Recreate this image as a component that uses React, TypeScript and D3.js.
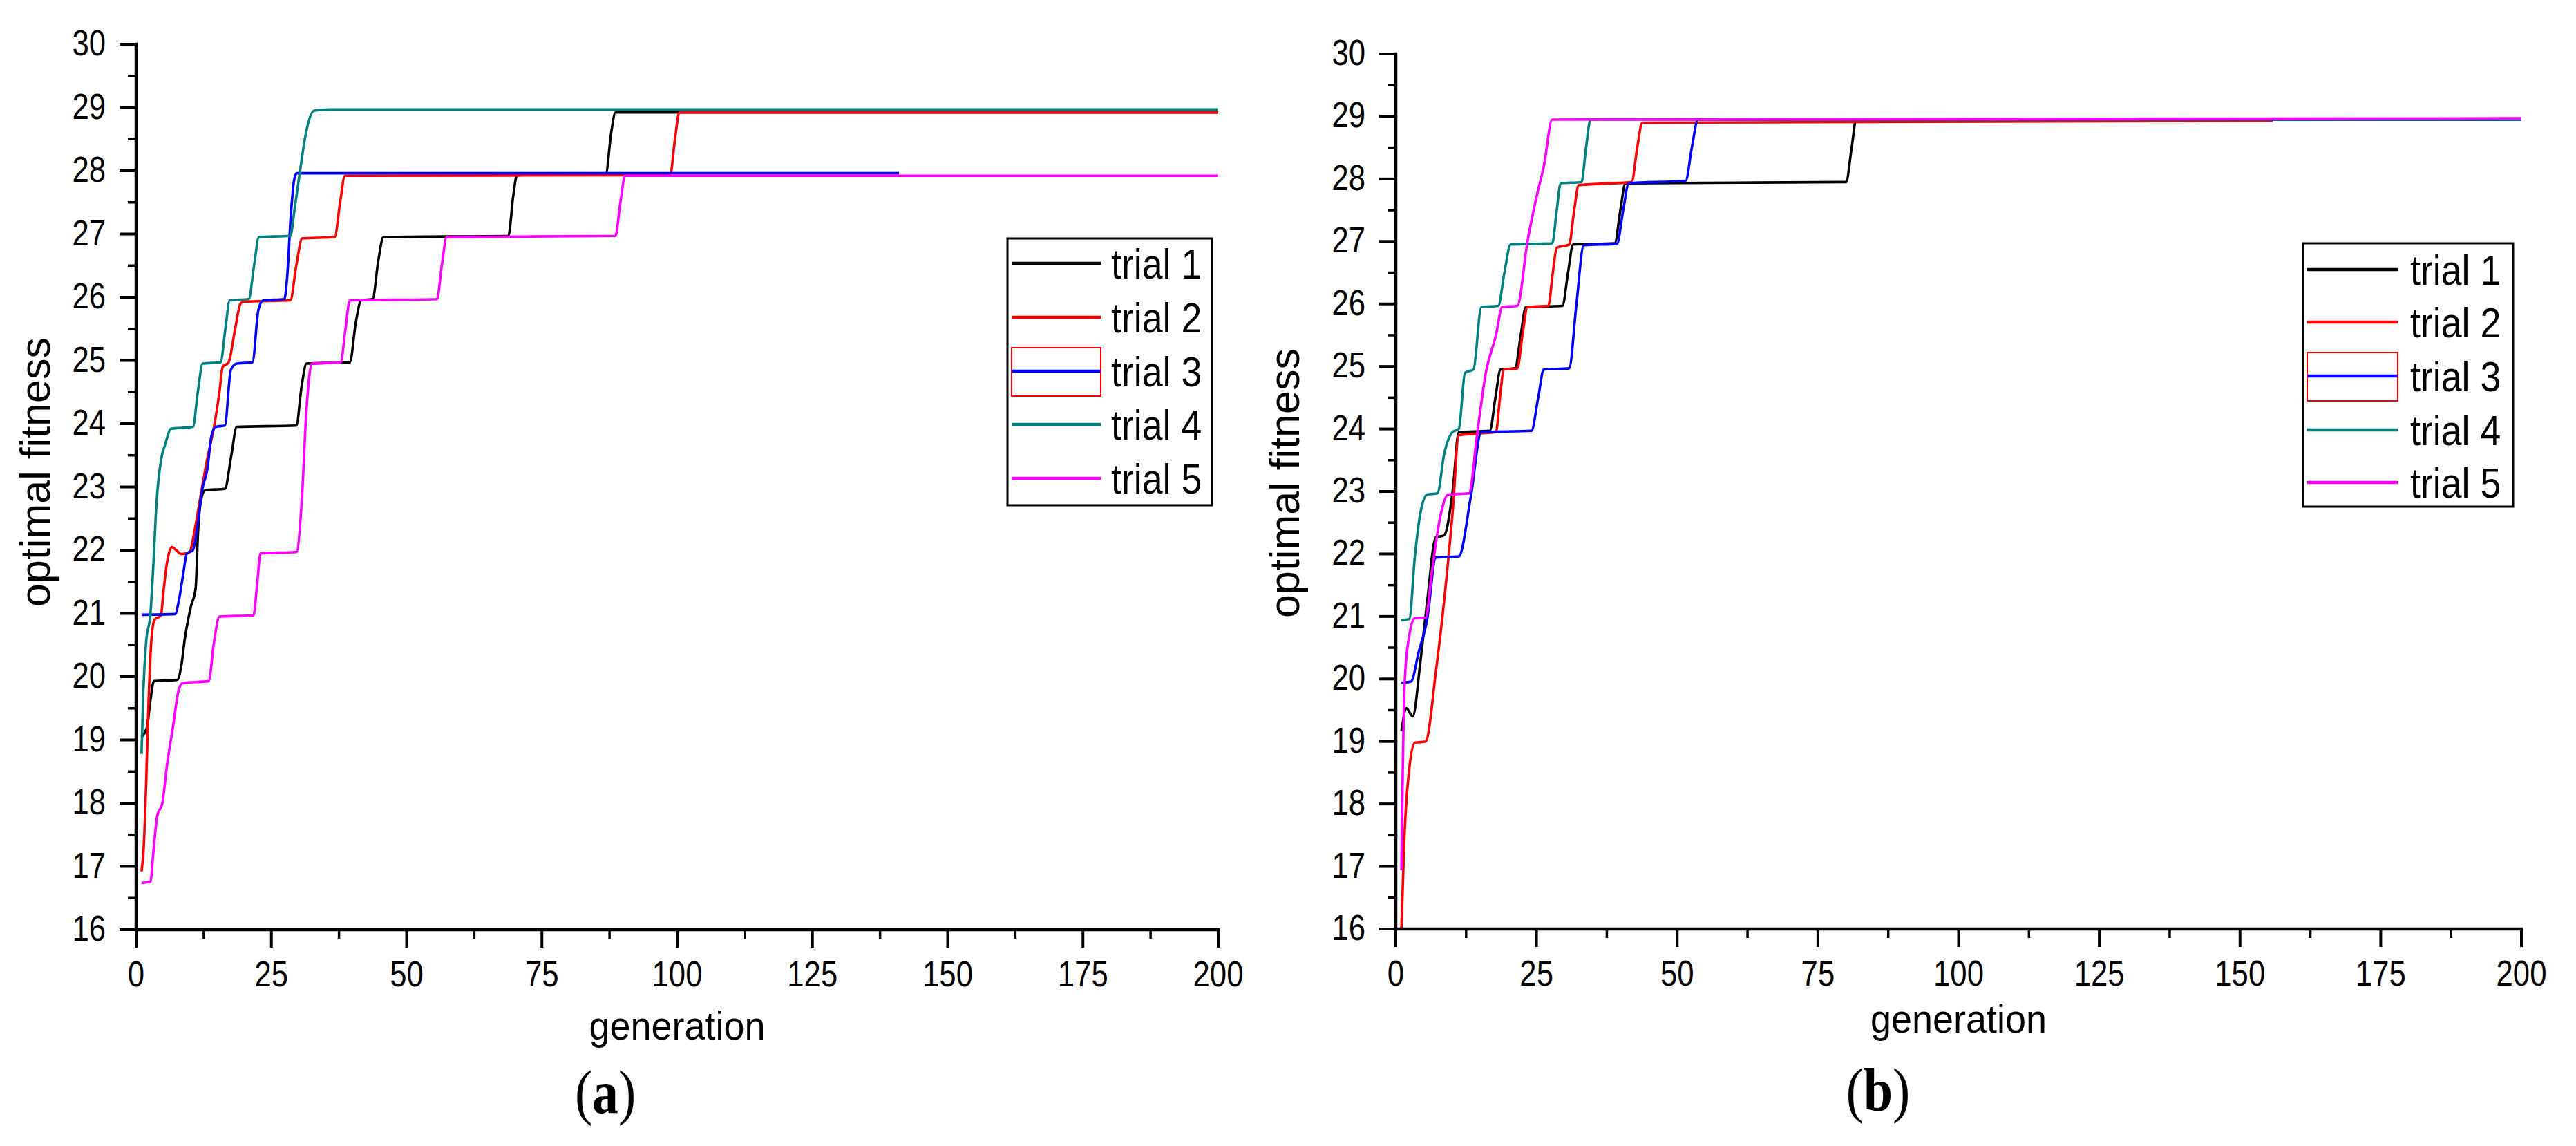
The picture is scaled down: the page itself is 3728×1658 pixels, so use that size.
import React from 'react';
import * as d3 from 'd3';

type Pt = [number, number];

const xTicks = [0, 25, 50, 75, 100, 125, 150, 175, 200];
const yTicks = [16, 17, 18, 19, 20, 21, 22, 23, 24, 25, 26, 27, 28, 29, 30];
const trialNames = ['trial 1', 'trial 2', 'trial 3', 'trial 4', 'trial 5'];
const trialColors = ['#000000', '#FF0000', '#0000FF', '#008080', '#FF00FF'];
const xTitle = 'generation';
const yTitle = 'optimal fitness';

// panel (a)
const a1: Pt[] = [[1,19.05],[2,19.2],[2.6,19.6],[3.3,19.93],[7.6,19.95],[8.4,20.2],[9.0,20.6],[10.1,21.1],[11.0,21.4],[11.45,22.3],[12.0,22.8],[12.8,22.95],[16.4,22.97],[17.6,23.5],[18.6,23.95],[29.6,23.97],[30.6,24.6],[31.5,24.95],[39.5,24.97],[40.6,25.6],[41.6,25.95],[43.7,25.97],[44.8,26.6],[45.7,26.95],[68.8,26.97],[69.7,27.6],[70.4,27.93],[86.8,27.95],[87.8,28.6],[88.6,28.92],[200,28.92]];
const a2: Pt[] = [[1,16.92],[1.4,17.3],[1.85,18.3],[2.3,19.6],[2.8,20.55],[3.4,20.9],[4.6,20.97],[5.0,21.3],[5.7,21.8],[6.6,22.05],[7.4,22.0],[8.3,21.94],[9.8,21.96],[10.9,22.35],[12.0,22.9],[13.05,23.4],[14.5,24.0],[15.4,24.5],[16.0,24.9],[17.1,24.97],[18.2,25.45],[19.3,25.9],[19.8,25.93],[28.5,25.95],[29.6,26.5],[30.7,26.93],[36.7,26.95],[37.7,27.5],[38.6,27.92],[98.7,27.93],[99.6,28.5],[100.4,28.92],[200,28.92]];
const a3: Pt[] = [[1,20.98],[7.2,20.99],[7.9,21.2],[8.66,21.6],[9.4,21.95],[10.5,22.0],[11.2,22.3],[12.2,22.95],[13.2,23.3],[13.9,23.8],[14.7,23.95],[16.4,23.97],[17.5,24.85],[18.6,24.95],[21.5,24.97],[22.6,25.8],[23.5,25.95],[27.4,25.97],[27.9,26.3],[28.6,27.3],[29.2,27.85],[29.7,27.96],[141,27.96]];
const a4: Pt[] = [[1,18.78],[1.33,19.77],[1.85,20.55],[2.65,21.0],[3.16,21.73],[3.75,22.72],[4.63,23.44],[5.36,23.67],[6.46,23.92],[10.5,23.95],[11.4,24.5],[12.3,24.95],[15.6,24.97],[16.5,25.5],[17.3,25.95],[20.8,25.97],[21.8,26.5],[22.7,26.95],[28.5,26.97],[29.3,27.4],[30.3,28.0],[31.4,28.6],[32.9,28.95],[36,28.97],[200,28.97]];
const a5: Pt[] = [[1,16.74],[2.65,16.76],[3.16,17.2],[3.9,17.8],[4.85,18.0],[5.7,18.6],[6.8,19.2],[7.9,19.8],[8.66,19.9],[13.4,19.93],[14.4,20.55],[15.4,20.95],[21.7,20.97],[22.4,21.5],[23.0,21.95],[29.6,21.97],[30.7,22.9],[31.4,24.1],[32.5,24.95],[37.8,24.97],[38.7,25.5],[39.5,25.95],[55.6,25.97],[56.5,26.5],[57.4,26.95],[88.6,26.97],[89.5,27.5],[90.4,27.92],[200,27.92]];

// panel (b)
const b1: Pt[] = [[1,19.16],[1.9,19.53],[3.0,19.4],[4.4,20.3],[5.6,21.26],[7.1,22.26],[8.6,22.3],[10.1,23.0],[11.2,23.95],[16.7,23.97],[17.7,24.5],[18.6,24.95],[21.2,24.97],[22.2,25.5],[23.1,25.95],[29.6,25.97],[30.6,26.5],[31.5,26.95],[38.9,26.97],[39.9,27.5],[40.8,27.93],[80.0,27.95],[81.0,28.5],[81.8,28.95],[200,28.95]];
const b2: Pt[] = [[1,16],[1.5,17.4],[2.4,18.57],[3.4,18.98],[5.3,19.0],[7.1,20.1],[8.6,21.26],[10.1,22.67],[11.2,23.9],[17.8,23.95],[18.5,24.5],[19.2,24.95],[21.6,24.97],[22.5,25.5],[23.4,25.95],[27.1,25.97],[27.9,26.5],[28.6,26.9],[30.8,26.95],[31.7,27.5],[32.5,27.9],[41.9,27.95],[42.9,28.5],[43.8,28.9],[155.8,28.93]];
const b3: Pt[] = [[1,19.94],[2.7,19.96],[4.1,20.44],[5.6,20.97],[7.1,21.94],[11.2,21.96],[13.3,22.9],[15.2,23.95],[24.1,23.97],[25.3,24.5],[26.3,24.95],[30.8,24.97],[32.1,26.0],[33.4,26.94],[39.3,26.96],[40.4,27.5],[41.4,27.93],[51.5,27.97],[52.6,28.5],[53.7,28.95],[200,28.95]];
const b4: Pt[] = [[1,20.94],[2.4,20.96],[3.4,21.97],[4.4,22.67],[5.6,22.95],[7.4,22.97],[8.6,23.6],[10.1,23.95],[11.2,24.0],[12.3,24.9],[13.8,24.95],[15.2,25.95],[18.2,25.97],[19.3,26.5],[20.4,26.95],[27.8,26.97],[28.6,27.5],[29.3,27.93],[33,27.95],[33.8,28.5],[34.6,28.95],[200,28.95]];
const b5: Pt[] = [[1,16.94],[1.2,18.3],[1.6,19.98],[2.4,20.7],[3.4,20.97],[5.3,20.98],[6.4,21.7],[7.8,22.55],[9.3,22.95],[13.0,22.97],[14.5,23.95],[16.0,24.9],[17.8,25.5],[18.9,25.95],[21.6,25.97],[23.4,27.0],[25.1,27.75],[26.3,28.2],[27.8,28.95],[200,28.97]];

const seriesA = [a1, a2, a3, a4, a5];
const seriesB = [b1, b2, b3, b4, b5];

const SANS = "'Liberation Sans', Arial, sans-serif";
const SERIF = "'Liberation Serif', 'Times New Roman', serif";

interface Layout {
  x0: number; x1: number; y0: number; y1: number;
  yTitleX: number; yTitleY: number;
  xTitleY: number;
  capX: number; capY: number;
  lg: { x0: number; x1: number; y0: number; y1: number; lineX0: number; lineX1: number; textX: number; rows: number[] };
}

const layoutA: Layout = {
  x0: 197, x1: 1763, y0: 1345, y1: 64,
  yTitleX: 72, yTitleY: 683, xTitleY: 1504, capX: 876, capY: 1610,
  lg: { x0: 1458, x1: 1754, y0: 345, y1: 731, lineX0: 1464, lineX1: 1593, textX: 1608, rows: [381, 459, 537, 614, 692] },
};
const layoutB: Layout = {
  x0: 2020, x1: 3649, y0: 1344, y1: 78,
  yTitleX: 1880, yTitleY: 699, xTitleY: 1494, capX: 2718, capY: 1607,
  lg: { x0: 3333, x1: 3637, y0: 352, y1: 733, lineX0: 3339, lineX1: 3470, textX: 3488, rows: [390, 466, 544, 622, 698] },
};

function Panel({ data, L, caption }: { data: Pt[][]; L: Layout; caption: string }) {
  const x = d3.scaleLinear().domain([0, 200]).range([L.x0, L.x1]);
  const y = d3.scaleLinear().domain([16, 30]).range([L.y0, L.y1]);
  const line = d3.line<Pt>().x(d => x(d[0])).y(d => y(d[1])).curve(d3.curveMonotoneX);
  const xMinor = d3.range(12.5, 200, 25);
  const yMinor = d3.range(16.5, 30, 1);
  const sx = 0.84;
  return (
    <g>
      {data.map((s, i) => (
        <path key={i} d={line(s) || ''} fill="none" stroke={trialColors[i]} strokeWidth={3.6} strokeLinejoin="round" />
      ))}
      <line x1={L.x0} x2={L.x1} y1={L.y0} y2={L.y0} stroke="#000" strokeWidth={4.5} strokeLinecap="square" />
      <line x1={L.x0} x2={L.x0} y1={L.y0} y2={L.y1} stroke="#000" strokeWidth={4.5} strokeLinecap="square" />
      {xTicks.map(t => (
        <g key={'xt' + t}>
          <line x1={x(t)} x2={x(t)} y1={L.y0} y2={L.y0 + 26} stroke="#000" strokeWidth={4} />
          <text transform={`translate(${x(t)},${L.y0 + 82}) scale(${sx},1)`} textAnchor="middle" fontFamily={SANS} fontSize={52} fill="#000">{t}</text>
        </g>
      ))}
      {xMinor.map(t => (
        <line key={'xm' + t} x1={x(t)} x2={x(t)} y1={L.y0} y2={L.y0 + 13} stroke="#000" strokeWidth={3.5} />
      ))}
      {yTicks.map(t => (
        <g key={'yt' + t}>
          <line x1={L.x0 - 24} x2={L.x0} y1={y(t)} y2={y(t)} stroke="#000" strokeWidth={4} />
          <text transform={`translate(${L.x0 - 44},${y(t) + 16}) scale(${sx},1)`} textAnchor="end" fontFamily={SANS} fontSize={52} fill="#000">{t}</text>
        </g>
      ))}
      {yMinor.map(t => (
        <line key={'ym' + t} x1={L.x0 - 12} x2={L.x0} y1={y(t)} y2={y(t)} stroke="#000" strokeWidth={3.5} />
      ))}
      <text transform={`translate(${(L.x0 + L.x1) / 2},${L.xTitleY}) scale(0.93,1)`} textAnchor="middle" fontFamily={SANS} fontSize={58} fill="#000">{xTitle}</text>
      <text transform={`translate(${L.yTitleX},${L.yTitleY}) rotate(-90)`} textAnchor="middle" fontFamily={SANS} fontSize={61} fill="#000">{yTitle}</text>
      <text transform={`translate(${L.capX},${L.capY}) scale(0.86,1)`} textAnchor="middle" fontFamily={SERIF} fontSize={88} fill="#000">
        (<tspan fontWeight="bold">{caption}</tspan>)
      </text>
      <rect x={L.lg.x0} y={L.lg.y0} width={L.lg.x1 - L.lg.x0} height={L.lg.y1 - L.lg.y0} fill="#fff" stroke="#000" strokeWidth={3} />
      {trialNames.map((n, i) => (
        <g key={n}>
          {i === 2 && (
            <rect x={L.lg.lineX0} y={L.lg.rows[i] - 34} width={L.lg.lineX1 - L.lg.lineX0} height={70} fill="none" stroke="#FF0000" strokeWidth={2} />
          )}
          <line x1={L.lg.lineX0} x2={L.lg.lineX1} y1={L.lg.rows[i]} y2={L.lg.rows[i]} stroke={trialColors[i]} strokeWidth={4.5} />
          <text transform={`translate(${L.lg.textX},${L.lg.rows[i] + 22}) scale(0.88,1)`} fontFamily={SANS} fontSize={61} fill="#000">{n}</text>
        </g>
      ))}
    </g>
  );
}

export default function App() {
  return (
    <svg width={3728} height={1658} viewBox="0 0 3728 1658" style={{ position: 'absolute', left: 0, top: 0, background: '#fff' }}>
      <rect x={0} y={0} width={3728} height={1658} fill="#fff" />
      <Panel data={seriesA} L={layoutA} caption="a" />
      <Panel data={seriesB} L={layoutB} caption="b" />
    </svg>
  );
}
